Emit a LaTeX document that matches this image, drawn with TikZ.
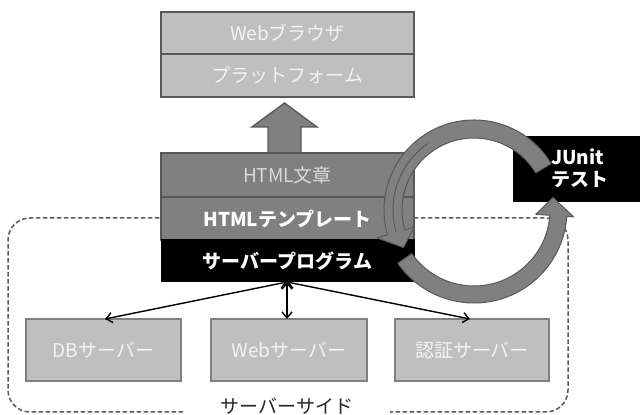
\documentclass[tikz,border=0pt]{standalone}
\usepackage{fontspec}
\setmainfont{Noto Sans CJK JP}
\usetikzlibrary{arrows.meta}
\definecolor{lg}{HTML}{BFBFBF}
\definecolor{mg}{HTML}{808080}
\definecolor{dg}{HTML}{595959}
\definecolor{tl}{HTML}{F2F2F2}
\definecolor{ht}{HTML}{D9D9D9}
\definecolor{lbl}{HTML}{262626}
\begin{document}
\begin{tikzpicture}[x=1pt,y=1pt,
  every node/.style={inner sep=0pt,outer sep=0pt,font=\fontsize{19}{23}\selectfont},
  topbox/.style={draw=dg,line width=1.6pt,fill=lg,text=tl,minimum width=253pt},
  htmlbox/.style={draw=dg,line width=1.6pt,fill=mg,minimum width=253pt},
  blackbox/.style={draw=black,line width=1pt,fill=black,text=white},
  srvbox/.style={draw=mg,line width=1.4pt,fill=lg,text=tl,minimum height=62pt},
  sideline/.style={draw=dg,line width=1.5pt,dash pattern=on 4.5pt off 2.5pt},
  link/.style={line width=1.4pt,{Straight Barb[length=6pt,width=10pt]}-{Straight Barb[length=6pt,width=10pt]}},
  bandstyle/.style={fill=mg,draw=dg,line width=1pt,line join=round},
  blockarrow/.style={fill=mg,draw=dg,line width=1.4pt}
]
\useasboundingbox (0,0) rectangle (640,415);
% server-side dashed region
\draw[sideline,rounded corners=22pt] (183,3) -- (8,3) -- (8,197) -- (568,197) -- (568,3) -- (390,3);
\node[text=lbl] (side) at (287,9) {サーバーサイド};
% browser stack
\node[topbox,minimum height=42pt] (browser) at (287.5,382) {Webブラウザ};
\node[topbox,minimum height=43pt] (platform) at (287.5,339.5) {プラットフォーム};
% up arrow
\draw[blockarrow] (268,262) -- (268,288) -- (252,288) -- (284.5,312) -- (317,288) -- (301,288) -- (301,262) -- cycle;
% HTML stack
\node[htmlbox,minimum height=44pt,text=ht] (doc) at (287.5,240) {HTML文章};
\node[htmlbox,minimum height=43pt,text=white,font=\fontsize{19}{23}\selectfont\bfseries] (tmpl) at (287.5,196.5) {HTMLテンプレート};
\node[blackbox,minimum width=253pt,minimum height=42pt,font=\fontsize{19}{23}\selectfont\bfseries] (prog) at (287.5,154) {サーバープログラム};
% JUnit box
\node[blackbox,minimum width=132pt,minimum height=65pt] (junit) at (579,245.5) {};
\node[anchor=west,text=white,font=\fontsize{19}{23}\selectfont\bfseries] (junit1) at (551,258) {JUnit};
\node[anchor=west,text=white,font=\fontsize{19}{23}\selectfont\bfseries] (junit2) at (551,235) {テスト};
% servers
\node[srvbox,minimum width=155pt] (db) at (103.5,65) {DBサーバー};
\node[srvbox,minimum width=156pt] (websrv) at (289,65) {Webサーバー};
\node[srvbox,minimum width=154pt] (auth) at (472,65) {認証サーバー};
% connectors
\coordinate (hub) at (287,133);
\draw[link] (hub) -- (db.north -| 105,0);
\draw[link] (hub) -- (websrv.north -| 287,0);
\draw[link] (hub) -- (auth.north -| 470,0);
% circular arrow
\begin{scope}[shift={(474,205)}]
\path[bandstyle] (31:90) arc[start angle=31,end angle=196,radius=90]
  -- (196:101) -- (208:80) -- (196:62) -- (196:72)
  arc[start angle=196,end angle=31,radius=72] -- cycle;
\draw[dg,line width=1pt] (125:81) arc[start angle=125,end angle=196,radius=81];
\path[bandstyle] (-145:93) arc[start angle=-145,end angle=-4,radius=93]
  -- (-4:100) -- (9:80) -- (-4:62) -- (-4:76)
  arc[start angle=-4,end angle=-145,radius=76] -- cycle;
\end{scope}
\end{tikzpicture}
\end{document}
